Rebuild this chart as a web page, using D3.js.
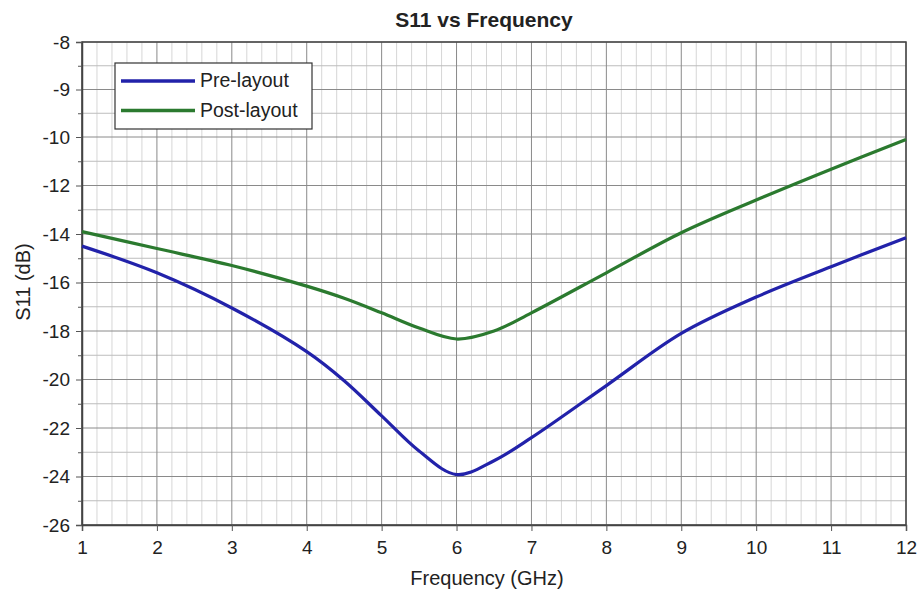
<!DOCTYPE html>
<html><head><meta charset="utf-8">
<script src="https://cdn.jsdelivr.net/npm/d3@7"></script>
<style>body{margin:0;background:#fff}svg{display:block}text{font-family:"Liberation Sans",Arial,sans-serif}</style>
</head><body><svg id="c" width="921" height="594"></svg>
<script>
const freq     = [1, 2, 3, 4, 4.5, 5, 5.5, 6, 6.5, 7, 8, 9, 10, 11, 12];
const preLayout  = [-14.5, -15.6, -17.05, -18.85, -20.05, -21.5, -22.95, -23.92, -23.35, -22.4, -20.25, -18.1, -16.6, -15.35, -14.15];
const postLayout = [-13.9, -14.6, -15.3, -16.15, -16.65, -17.25, -17.88, -18.33, -18.0, -17.25, -15.6, -13.95, -12.6, -11.33, -10.1];
const xTicks = [1,2,3,4,5,6,7,8,9,10,11,12];
const yTicks = [-8,-9,-10,-12,-14,-16,-18,-20,-22,-24,-26];
const yMinor = [-8.5,-9.5,-11,-13,-15,-17,-19,-21,-23,-25];
const seriesNames = ["Pre-layout","Post-layout"];
const seriesColors = ["#2222aa","#2b7a2f"];

const svg = d3.select("#c");
const L=82, R=906, T=42, B=525;
const x = d3.scaleLinear().domain([1,12]).range([L,R]);
const y = d3.scaleLinear().domain([-26,-10,-8]).range([B,137,T]);

const xMinor = d3.range(1,12.001,0.2).filter(v=>Math.abs(v-Math.round(v))>1e-6);
svg.append("g").selectAll("line").data(xMinor).join("line")
  .attr("x1",d=>x(d)).attr("x2",d=>x(d)).attr("y1",T).attr("y2",B)
  .attr("stroke","#d6d6d6").attr("stroke-width",1);
svg.append("g").selectAll("line").data(yMinor).join("line")
  .attr("x1",L).attr("x2",R).attr("y1",d=>y(d)).attr("y2",d=>y(d))
  .attr("stroke","#bdbdbd").attr("stroke-width",1);
svg.append("g").selectAll("line").data(xTicks).join("line")
  .attr("x1",d=>x(d)).attr("x2",d=>x(d)).attr("y1",T).attr("y2",B)
  .attr("stroke","#8a8a8a").attr("stroke-width",1);
svg.append("g").selectAll("line").data(yTicks).join("line")
  .attr("x1",L).attr("x2",R).attr("y1",d=>y(d)).attr("y2",d=>y(d))
  .attr("stroke","#8a8a8a").attr("stroke-width",1);

svg.append("rect").attr("x",L).attr("y",T).attr("width",R-L).attr("height",B-T)
  .attr("fill","none").attr("stroke","#444").attr("stroke-width",1.5);

const xAxis = d3.axisBottom(x).tickValues(xTicks).tickSize(6).tickPadding(10).tickFormat(d3.format("d"));
const gx = svg.append("g").attr("transform",`translate(0,${B})`).call(xAxis);
const yAxis = d3.axisLeft(y).tickValues(yTicks).tickSize(6).tickPadding(6).tickFormat(d=>String(d));
const gy = svg.append("g").attr("transform",`translate(${L},0)`).call(yAxis);
svg.append("g").attr("transform",`translate(${L},0)`)
  .call(d3.axisLeft(y).tickValues(yMinor).tickSize(4).tickFormat(""))
  .call(g=>g.select(".domain").remove());
[gx,gy].forEach(g=>{
  g.select(".domain").attr("stroke","#444").attr("stroke-width",1.5);
  g.selectAll(".tick text").attr("fill","#222").style("font-size","19px").style("font-family","'Liberation Sans',Arial,sans-serif");
});
svg.selectAll(".tick line").attr("stroke","#555");

const data = [preLayout, postLayout];
const line = d3.line().x((d,i)=>x(freq[i])).y(d=>y(d)).curve(d3.curveCatmullRom.alpha(0.5));
svg.append("g").selectAll("path").data(data).join("path")
  .attr("d",d=>line(d)).attr("fill","none")
  .attr("stroke",(d,i)=>seriesColors[i]).attr("stroke-width",3.2)
  .attr("stroke-linejoin","round");

const lg = svg.append("g");
lg.append("rect").attr("x",115).attr("y",63).attr("width",197).attr("height",66)
  .attr("fill","#fff").attr("stroke","#333").attr("stroke-width",1.2);
seriesNames.forEach((n,i)=>{
  const yy = 81 + i*29.5;
  lg.append("line").attr("x1",121).attr("x2",195).attr("y1",yy).attr("y2",yy)
    .attr("stroke",seriesColors[i]).attr("stroke-width",3.5);
  lg.append("text").attr("x",200).attr("y",yy+6).text(n)
    .attr("fill","#222").style("font-size","19.5px");
});

svg.append("text").attr("x",484).attr("y",27).attr("text-anchor","middle")
  .style("font-size","21px").style("font-weight","bold").attr("fill","#222").text("S11 vs Frequency");
svg.append("text").attr("x",487).attr("y",585).attr("text-anchor","middle")
  .style("font-size","20px").attr("fill","#222").text("Frequency (GHz)");
svg.append("text").attr("transform","translate(30,282) rotate(-90)").attr("text-anchor","middle")
  .style("font-size","20px").attr("fill","#222").text("S11 (dB)");
</script></body></html>
